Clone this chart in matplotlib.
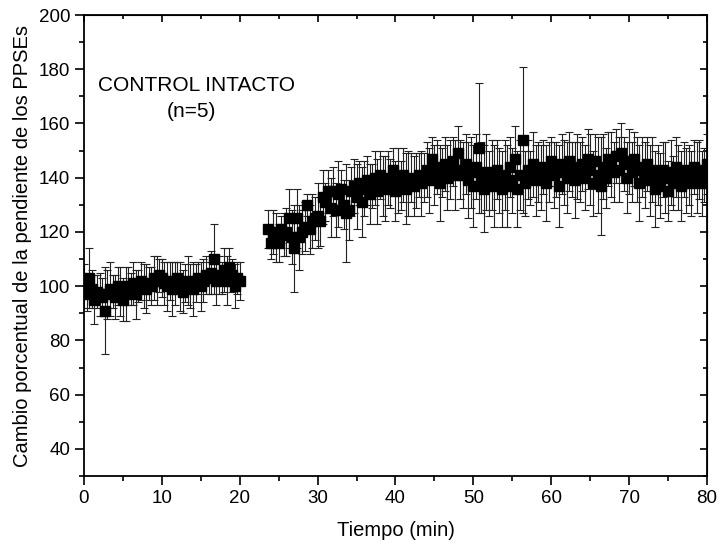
import numpy as np
import matplotlib.pyplot as plt
from matplotlib.ticker import MultipleLocator

plt.rcParams['font.family'] = ['Liberation Sans', 'DejaVu Sans']

# primer tramo (0 - 20 min, cada 20 s)
t1 = np.arange(61) / 3.0
y1 = [100, 97, 103, 99, 95, 98, 97, 96, 91, 97, 99, 98, 96, 100, 98, 95,
      97, 100, 99, 101, 97, 100, 102, 100, 99, 101, 100, 103, 102, 104, 103,
      101, 100, 102, 99, 101, 103, 100, 98, 101, 102, 100, 99, 101, 103, 100,
      102, 104, 103, 105, 110, 102, 104, 103, 106, 102, 107, 104, 100, 103, 102]
e1 = [8, 6, 11, 7, 9, 6, 8, 7, 16, 9, 10, 6, 8, 7, 9, 8,
      10, 7, 6, 8, 9, 6, 7, 8, 9, 6, 7, 8, 9, 6, 7,
      8, 9, 7, 10, 8, 6, 9, 8, 7, 9, 8, 10, 7, 6, 9,
      8, 7, 6, 8, 13, 9, 7, 6, 8, 9, 7, 6, 8, 6, 7]

# segundo tramo (23.7 - 80 min)
t2 = 23 + np.arange(2, 172) / 3.0
y2 = [121, 116, 120, 118, 116, 121, 119, 120, 125, 118, 114, 125, 118, 120, 122,
      130, 121, 124, 125, 126, 124, 133, 131, 135, 129, 135, 128, 134, 136, 130,
      127, 128, 135, 137, 133, 138, 131, 136, 139, 134, 137, 140, 135, 141, 137,
      136, 140, 138, 143, 135, 139, 137, 141, 136, 138, 140, 137, 139, 141, 138,
      140, 143, 139, 147, 141, 144, 138, 142, 145, 140, 143, 146, 141, 149, 143,
      141, 145, 139, 142, 137, 144, 151, 140, 136, 142, 138, 141, 137, 143, 139,
      136, 141, 137, 144, 139, 147, 136, 141, 154, 138, 143, 140, 145, 139, 142,
      140, 144, 138, 142, 146, 141, 143, 137, 145, 142, 140, 146, 143, 139, 144,
      142, 145, 140, 147, 143, 138, 146, 141, 137, 144, 140, 147, 145, 142, 148,
      143, 149, 145, 140, 146, 142, 147, 143, 138, 144, 141, 145, 139, 143, 136,
      141, 137, 143, 140, 135, 142, 138, 144, 140, 137, 143, 139, 141, 138, 144,
      140, 143, 138, 141, 145]
e2 = [7, 6, 8, 9, 7, 5, 8, 9, 11, 10, 16, 11, 12, 8, 9,
      4, 9, 10, 8, 12, 9, 10, 7, 8, 11, 9, 10, 12, 7, 9,
      18, 11, 9, 10, 12, 8, 13, 10, 9, 11, 8, 10, 12, 9, 11,
      12, 10, 9, 8, 11, 12, 9, 10, 13, 12, 9, 11, 10, 8, 12,
      9, 10, 12, 8, 11, 10, 14, 9, 10, 12, 11, 9, 13, 10, 11,
      12, 11, 14, 13, 15, 12, 24, 13, 16, 14, 12, 13, 15, 11, 12,
      14, 13, 15, 11, 12, 12, 14, 13, 27, 12, 11, 10, 12, 13, 11,
      12, 10, 14, 11, 9, 12, 10, 15, 11, 12, 13, 11, 10, 14, 12,
      11, 10, 12, 11, 13, 12, 10, 14, 18, 12, 11, 10, 12, 11, 10,
      12, 11, 10, 13, 12, 11, 10, 12, 14, 11, 12, 10, 13, 12, 14,
      11, 12, 10, 13, 11, 12, 10, 11, 12, 13, 10, 12, 11, 12, 10,
      13, 11, 12, 10, 11]

fig = plt.figure(figsize=(7.19, 5.52), dpi=100)
ax = fig.add_axes([0.1168, 0.1377, 0.8665, 0.8351])

for t, y, e in [(t1, y1, e1), (t2, y2, e2)]:
    ax.errorbar(t, y, yerr=e, fmt='s', color='black', ms=6.5, mec='black',
                ecolor='#222222', elinewidth=0.8, capsize=3.2, capthick=0.8)

ax.set_xlim(0, 80)
ax.set_ylim(30, 200)
ax.xaxis.set_major_locator(MultipleLocator(10))
ax.xaxis.set_minor_locator(MultipleLocator(5))
ax.yaxis.set_major_locator(MultipleLocator(20))
ax.yaxis.set_minor_locator(MultipleLocator(10))
ax.set_yticks(range(40, 201, 20))

for s in ax.spines.values():
    s.set_linewidth(1.3)
ax.tick_params(which='both', direction='out', width=1.2, labelsize=13.5,
               top=False, right=False)
ax.tick_params(which='major', length=6.5, pad=3.5)
ax.tick_params(which='minor', length=3.5)
sec_x = ax.secondary_xaxis('top')
sec_x.set_xticks(range(0, 81, 10))
sec_x.xaxis.set_minor_locator(MultipleLocator(5))
sec_x.tick_params(which='both', direction='in', width=1.2, labeltop=False)
sec_x.tick_params(which='major', length=5)
sec_x.tick_params(which='minor', length=3)
sec_y = ax.secondary_yaxis('right')
sec_y.set_yticks(range(40, 201, 20))
sec_y.yaxis.set_minor_locator(MultipleLocator(10))
sec_y.tick_params(which='both', direction='in', width=1.2, labelright=False)
sec_y.tick_params(which='major', length=5)
sec_y.tick_params(which='minor', length=3)

ax.set_xlabel('Tiempo (min)', fontsize=14.5, labelpad=10)
ax.set_ylabel('Cambio porcentual de la pendiente de los PPSEs', fontsize=14.5,
              labelpad=5)

ax.text(14.4, 174, 'CONTROL INTACTO', fontsize=15, ha='center', va='center')
ax.text(13.8, 164.5, '(n=5)', fontsize=15, ha='center', va='center')

fig.savefig('out.png', dpi=100)
